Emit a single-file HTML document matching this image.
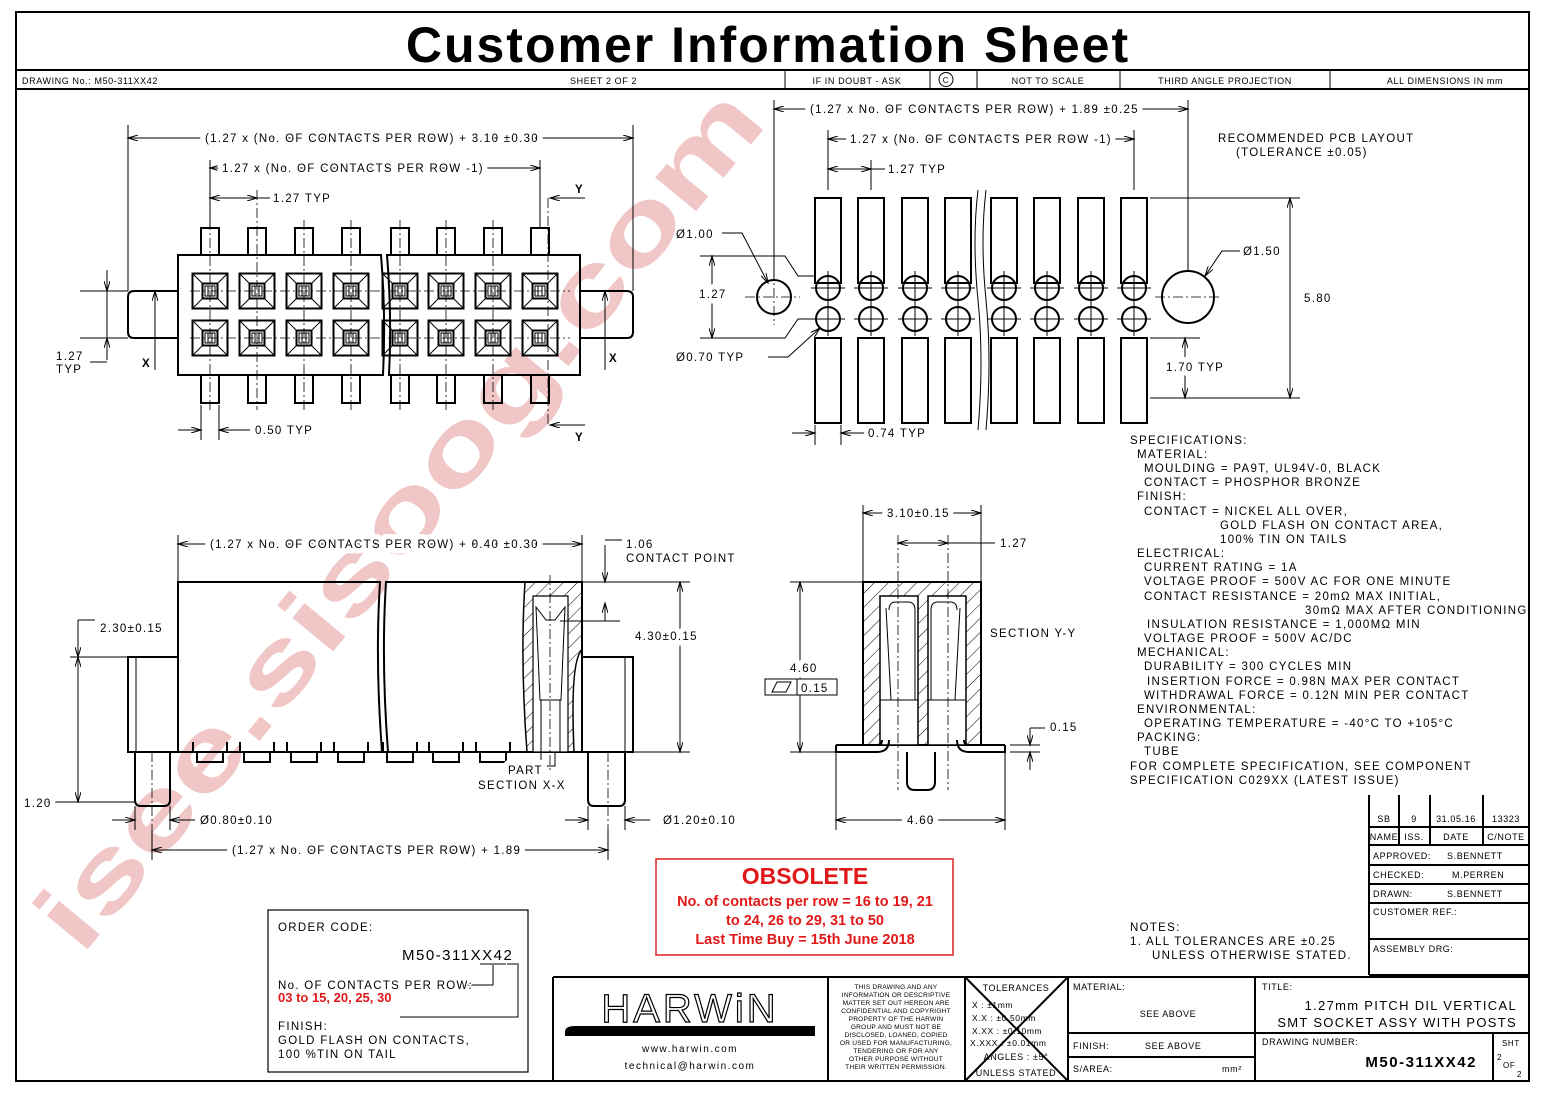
<!DOCTYPE html>
<html><head><meta charset="utf-8"><style>
html,body{margin:0;padding:0;background:#fff}
svg{display:block}
text{font-family:"Liberation Sans",sans-serif;fill:#000}
.t{font-size:11.5px;letter-spacing:1.3px;paint-order:stroke;stroke:#fff;stroke-width:3px;stroke-linejoin:round}
.d{stroke-width:11px}
.s{font-size:9px;letter-spacing:0.6px}
.ln{stroke:#000;stroke-width:1;fill:none}
.th{stroke:#000;stroke-width:2;fill:none}
.cl{stroke:#000;stroke-width:0.8;stroke-dasharray:10 3 2 3;fill:none}
</style></head><body>
<svg width="1543" height="1093" viewBox="0 0 1543 1093" xmlns="http://www.w3.org/2000/svg">
<defs>
<marker id="a" viewBox="0 0 10 6" refX="10" refY="3" markerWidth="14" markerHeight="6" orient="auto-start-reverse" markerUnits="userSpaceOnUse"><path d="M0,0 L10,3 L0,6" fill="none" stroke="#000" stroke-width="1"/></marker>
<g id="sq"><rect x="-17.5" y="-17.5" width="35" height="35" class="th"/><rect x="-7.5" y="-7.5" width="15" height="15" class="th"/><rect x="-5" y="-5" width="10" height="10" class="ln"/><path d="M-17.5,-17.5L-7.5,-7.5M17.5,-17.5L7.5,-7.5M-17.5,17.5L-7.5,7.5M17.5,17.5L7.5,7.5M-2,-5V5M2,-5V5" class="ln"/></g>
<g id="pt"><rect x="-9" y="-27" width="18" height="27" class="th"/></g>
<g id="pb"><rect x="-9" y="0" width="18" height="28" class="th"/></g>
<g id="pc"><circle r="12" class="th"/><path d="M-17,0H17M0,-17V17" class="ln"/></g>
<g id="ct"><path d="M-17,0 v10 h4 v10 h26 v-10 h4 v-10" class="th"/><path d="M-13,10 h26" class="ln"/></g>
<pattern id="h" width="10" height="10" patternUnits="userSpaceOnUse" patternTransform="rotate(45)"><line x1="0" y1="0" x2="0" y2="10" stroke="#000" stroke-width="1"/></pattern>
</defs>

<!-- watermark -->
<text x="0" y="0" transform="translate(425,540) rotate(-50.5)" text-anchor="middle" textLength="1080" lengthAdjust="spacingAndGlyphs" style="font-size:100px;font-weight:bold;fill:#f0c6c6;letter-spacing:0">isee.sisoog.com</text>

<!-- frame -->
<rect x="16" y="12" width="1513" height="1069" class="th"/>
<line x1="16" y1="70" x2="1529" y2="70" class="th"/>
<line x1="16" y1="89" x2="1529" y2="89" class="th"/>
<text x="768" y="62" text-anchor="middle" style="font-size:50px;font-weight:bold;letter-spacing:2px">Customer Information Sheet</text>
<g class="ln"><line x1="785" y1="70" x2="785" y2="89"/><line x1="930" y1="70" x2="930" y2="89"/><line x1="977" y1="70" x2="977" y2="89"/><line x1="1120" y1="70" x2="1120" y2="89"/><line x1="1330" y1="70" x2="1330" y2="89"/></g>
<text x="22" y="84" class="s">DRAWING No.:  M50-311XX42</text>
<text x="570" y="84" class="s">SHEET 2 OF 2</text>
<text x="857" y="84" class="s" text-anchor="middle">IF IN DOUBT - ASK</text>
<circle cx="946" cy="79.5" r="7" class="ln"/><text x="946" y="83" class="s" text-anchor="middle" style="font-size:8px">C</text>
<text x="1048" y="84" class="s" text-anchor="middle">NOT TO SCALE</text>
<text x="1225" y="84" class="s" text-anchor="middle">THIRD ANGLE PROJECTION</text>
<text x="1445" y="84" class="s" text-anchor="middle">ALL DIMENSIONS IN mm</text>

<!-- TOP LEFT VIEW -->
<g>
<path d="M178,255 H381 Q386,315 383,375 H178 Z" class="th"/>
<path d="M387,255 Q392,315 389,375 H580 V255 Z" class="th"/>
<path d="M178,291 H134 Q128,291 128,297 V332 Q128,338 134,338 H178" class="th"/>
<path d="M580,291 H627 Q633,291 633,297 V332 Q633,338 627,338 H580" class="th"/>
<use href="#pt" x="210" y="255"/><use href="#pt" x="257" y="255"/><use href="#pt" x="304" y="255"/><use href="#pt" x="351" y="255"/><use href="#pt" x="400" y="255"/><use href="#pt" x="446" y="255"/><use href="#pt" x="493" y="255"/><use href="#pt" x="540" y="255"/>
<use href="#pb" x="210" y="375"/><use href="#pb" x="257" y="375"/><use href="#pb" x="304" y="375"/><use href="#pb" x="351" y="375"/><use href="#pb" x="400" y="375"/><use href="#pb" x="446" y="375"/><use href="#pb" x="493" y="375"/><use href="#pb" x="540" y="375"/>
<use href="#sq" x="210" y="291"/><use href="#sq" x="257" y="291"/><use href="#sq" x="304" y="291"/><use href="#sq" x="351" y="291"/><use href="#sq" x="400" y="291"/><use href="#sq" x="446" y="291"/><use href="#sq" x="493" y="291"/><use href="#sq" x="540" y="291"/>
<use href="#sq" x="210" y="338"/><use href="#sq" x="257" y="338"/><use href="#sq" x="304" y="338"/><use href="#sq" x="351" y="338"/><use href="#sq" x="400" y="338"/><use href="#sq" x="446" y="338"/><use href="#sq" x="493" y="338"/><use href="#sq" x="540" y="338"/>
<g class="cl"><line x1="190" y1="291" x2="570" y2="291"/><line x1="190" y1="338" x2="570" y2="338"/>
<line x1="210" y1="220" x2="210" y2="410"/><line x1="257" y1="190" x2="257" y2="410"/><line x1="304" y1="220" x2="304" y2="410"/><line x1="351" y1="220" x2="351" y2="410"/><line x1="400" y1="220" x2="400" y2="410"/><line x1="446" y1="220" x2="446" y2="410"/><line x1="493" y1="220" x2="493" y2="410"/><line x1="548" y1="198" x2="548" y2="425"/></g>
<g class="ln">
<line x1="128" y1="125" x2="128" y2="291"/><line x1="633" y1="125" x2="633" y2="291"/>
<line x1="128" y1="138" x2="633" y2="138" marker-start="url(#a)" marker-end="url(#a)"/>
<line x1="210" y1="160" x2="210" y2="228"/><line x1="540" y1="160" x2="540" y2="228"/>
<line x1="210" y1="168" x2="540" y2="168" marker-start="url(#a)" marker-end="url(#a)"/>
<line x1="210" y1="198" x2="257" y2="198" marker-start="url(#a)" marker-end="url(#a)"/><line x1="257" y1="198" x2="270" y2="198"/>
<line x1="201" y1="405" x2="201" y2="440"/><line x1="219" y1="405" x2="219" y2="440"/>
<line x1="178" y1="430" x2="201" y2="430" marker-end="url(#a)"/><line x1="250" y1="430" x2="219" y2="430" marker-end="url(#a)"/>
<line x1="80" y1="291" x2="128" y2="291"/><line x1="80" y1="338" x2="128" y2="338"/>
<line x1="107" y1="270" x2="107" y2="291" marker-end="url(#a)"/><line x1="107" y1="360" x2="107" y2="338" marker-end="url(#a)"/><line x1="107" y1="291" x2="107" y2="338"/>
<line x1="90" y1="362" x2="107" y2="362"/>
<line x1="155" y1="370" x2="155" y2="291" marker-end="url(#a)"/>
<line x1="605" y1="370" x2="605" y2="291" marker-end="url(#a)"/>
<line x1="585" y1="198" x2="550" y2="198" marker-end="url(#a)"/>
<line x1="585" y1="425" x2="550" y2="425" marker-end="url(#a)"/>
</g>
<text x="205" y="142" class="t d">(1.27 x (No. OF CONTACTS PER ROW) + 3.10 ±0.30</text>
<text x="222" y="172" class="t d">1.27 x (No. OF CONTACTS PER ROW -1)</text>
<text x="273" y="202" class="t">1.27 TYP</text>
<text x="255" y="434" class="t">0.50 TYP</text>
<text x="56" y="360" class="t">1.27</text><text x="56" y="373" class="t">TYP</text>
<text x="142" y="367" class="t" style="font-weight:bold">X</text>
<text x="609" y="362" class="t" style="font-weight:bold">X</text>
<text x="575" y="193" class="t" style="font-weight:bold">Y</text>
<text x="575" y="441" class="t" style="font-weight:bold">Y</text>
</g>

<!-- PCB LAYOUT -->
<g>
<rect x="815" y="198" width="26" height="85" class="th"/><rect x="858" y="198" width="26" height="85" class="th"/><rect x="902" y="198" width="26" height="85" class="th"/><rect x="945" y="198" width="26" height="85" class="th"/><rect x="991" y="198" width="26" height="85" class="th"/><rect x="1034" y="198" width="26" height="85" class="th"/><rect x="1078" y="198" width="26" height="85" class="th"/><rect x="1121" y="198" width="26" height="85" class="th"/>
<rect x="815" y="338" width="26" height="85" class="th"/><rect x="858" y="338" width="26" height="85" class="th"/><rect x="902" y="338" width="26" height="85" class="th"/><rect x="945" y="338" width="26" height="85" class="th"/><rect x="991" y="338" width="26" height="85" class="th"/><rect x="1034" y="338" width="26" height="85" class="th"/><rect x="1078" y="338" width="26" height="85" class="th"/><rect x="1121" y="338" width="26" height="85" class="th"/>
<use href="#pc" x="828" y="288"/><use href="#pc" x="871" y="288"/><use href="#pc" x="915" y="288"/><use href="#pc" x="958" y="288"/><use href="#pc" x="1004" y="288"/><use href="#pc" x="1047" y="288"/><use href="#pc" x="1091" y="288"/><use href="#pc" x="1134" y="288"/>
<use href="#pc" x="828" y="319"/><use href="#pc" x="871" y="319"/><use href="#pc" x="915" y="319"/><use href="#pc" x="958" y="319"/><use href="#pc" x="1004" y="319"/><use href="#pc" x="1047" y="319"/><use href="#pc" x="1091" y="319"/><use href="#pc" x="1134" y="319"/>
<path d="M978,190 Q972,240 978,300 Q984,360 978,430 M986,190 Q980,240 986,300 Q992,360 986,430" class="ln"/>
<circle cx="774" cy="297" r="17" class="th"/><circle cx="1188" cy="297" r="26" class="th"/>
<g class="cl"><line x1="745" y1="297" x2="800" y2="297"/><line x1="774" y1="270" x2="774" y2="325"/><line x1="1155" y1="297" x2="1222" y2="297"/></g>
<g class="ln">
<line x1="774" y1="100" x2="774" y2="280"/><line x1="1188" y1="100" x2="1188" y2="270"/>
<line x1="774" y1="109" x2="1188" y2="109" marker-start="url(#a)" marker-end="url(#a)"/>
<line x1="828" y1="130" x2="828" y2="190"/><line x1="1134" y1="130" x2="1134" y2="190"/>
<line x1="828" y1="139" x2="1134" y2="139" marker-start="url(#a)" marker-end="url(#a)"/>
<line x1="871" y1="160" x2="871" y2="190"/>
<line x1="828" y1="169" x2="871" y2="169" marker-start="url(#a)" marker-end="url(#a)"/><line x1="871" y1="169" x2="885" y2="169"/>
<line x1="815" y1="425" x2="815" y2="445"/><line x1="841" y1="425" x2="841" y2="445"/>
<line x1="792" y1="433" x2="815" y2="433" marker-end="url(#a)"/><line x1="864" y1="433" x2="841" y2="433" marker-end="url(#a)"/>
<path d="M722,233 H742 L768,283" marker-end="url(#a)"/>
<path d="M1240,251 H1222 L1205,276" marker-end="url(#a)"/>
<path d="M700,256 H785 L798,276 H815"/><path d="M700,338 H785 L798,319 H815"/>
<line x1="712" y1="256" x2="712" y2="338" marker-start="url(#a)" marker-end="url(#a)"/>
<path d="M768,357 H788 L820,328" marker-end="url(#a)"/>
<line x1="1150" y1="198" x2="1300" y2="198"/><line x1="1150" y1="398" x2="1300" y2="398"/><line x1="1150" y1="338" x2="1200" y2="338"/>
<line x1="1290" y1="198" x2="1290" y2="398" marker-start="url(#a)" marker-end="url(#a)"/>
<line x1="1185" y1="338" x2="1185" y2="398" marker-start="url(#a)" marker-end="url(#a)"/>
</g>
<text x="810" y="113" class="t d">(1.27 x No. OF CONTACTS PER ROW) + 1.89 ±0.25</text>
<text x="850" y="143" class="t d">1.27 x (No. OF CONTACTS PER ROW -1)</text>
<text x="888" y="173" class="t">1.27 TYP</text>
<text x="1218" y="142" class="t">RECOMMENDED PCB LAYOUT</text>
<text x="1236" y="156" class="t">(TOLERANCE ±0.05)</text>
<text x="676" y="238" class="t">Ø1.00</text>
<text x="699" y="298" class="t d">1.27</text>
<text x="676" y="361" class="t">Ø0.70 TYP</text>
<text x="1243" y="255" class="t">Ø1.50</text>
<text x="1304" y="302" class="t">5.80</text>
<text x="1166" y="371" class="t d">1.70 TYP</text>
<text x="868" y="437" class="t">0.74 TYP</text>
</g>

<!-- SIDE VIEW -->
<g>
<path d="M178,582 H380 Q375,660 382,752 H178 Z" class="th"/>
<path d="M386,582 Q381,660 388,752 H582 V582 Z" class="th"/>
<rect x="128" y="657" width="50" height="95" class="th"/><line x1="136" y1="657" x2="136" y2="752" class="ln"/>
<rect x="582" y="657" width="51" height="95" class="th"/><line x1="625" y1="657" x2="625" y2="752" class="ln"/>
<path d="M135,752 V800 Q135,806 141,806 H164 Q170,806 170,800 V752" class="th"/>
<path d="M588,752 V800 Q588,806 594,806 H619 Q625,806 625,800 V752" class="th"/>
<use href="#ct" x="210" y="742"/><use href="#ct" x="257" y="742"/><use href="#ct" x="304" y="742"/><use href="#ct" x="351" y="742"/><use href="#ct" x="400" y="742"/><use href="#ct" x="446" y="742"/><use href="#ct" x="493" y="742"/>
<path d="M525,582 Q520,660 527,752 H574 Q570,660 582,650 V582 Z" fill="url(#h)" stroke="#000" stroke-width="1.5"/>
<path d="M533,596 H568 V752 H533 Z" fill="#fff" stroke="#000" stroke-width="1.2"/>
<path d="M536,607 L540,700 H561 L565,607 L555,620 H546 Z" class="ln"/>
<rect x="541" y="700" width="19" height="52" class="ln"/>
<rect x="541" y="752" width="14" height="14" class="ln"/>
<g class="cl"><line x1="550" y1="575" x2="550" y2="770"/><line x1="152" y1="752" x2="152" y2="830"/><line x1="608" y1="752" x2="608" y2="830"/></g>
<g class="ln">
<line x1="178" y1="535" x2="178" y2="582"/><line x1="582" y1="535" x2="582" y2="582"/>
<line x1="178" y1="544" x2="582" y2="544" marker-start="url(#a)" marker-end="url(#a)"/>
<line x1="70" y1="657" x2="128" y2="657"/><line x1="30" y1="802" x2="135" y2="802"/>
<line x1="78" y1="620" x2="78" y2="657" marker-end="url(#a)"/><line x1="78" y1="620" x2="95" y2="620"/>
<line x1="78" y1="657" x2="78" y2="802" marker-start="url(#a)" marker-end="url(#a)"/>
<line x1="135" y1="806" x2="135" y2="830"/><line x1="170" y1="806" x2="170" y2="830"/>
<line x1="112" y1="820" x2="135" y2="820" marker-end="url(#a)"/><line x1="195" y1="820" x2="170" y2="820" marker-end="url(#a)"/>
<line x1="588" y1="806" x2="588" y2="830"/><line x1="625" y1="806" x2="625" y2="830"/>
<line x1="565" y1="820" x2="588" y2="820" marker-end="url(#a)"/><line x1="650" y1="820" x2="625" y2="820" marker-end="url(#a)"/>
<line x1="152" y1="830" x2="152" y2="860"/><line x1="608" y1="830" x2="608" y2="860"/>
<line x1="152" y1="850" x2="608" y2="850" marker-start="url(#a)" marker-end="url(#a)"/>
<line x1="582" y1="582" x2="690" y2="582"/><line x1="560" y1="621" x2="620" y2="621"/>
<line x1="605" y1="545" x2="605" y2="582" marker-end="url(#a)"/><line x1="605" y1="540" x2="622" y2="540"/>
<line x1="605" y1="621" x2="605" y2="603" marker-end="url(#a)"/>
<line x1="680" y1="582" x2="680" y2="752" marker-start="url(#a)" marker-end="url(#a)"/>
<line x1="633" y1="752" x2="690" y2="752"/>
</g>
<text x="210" y="548" class="t d">(1.27 x No. OF CONTACTS PER ROW) + 0.40 ±0.30</text>
<text x="626" y="548" class="t">1.06</text>
<text x="626" y="562" class="t">CONTACT POINT</text>
<text x="100" y="632" class="t">2.30±0.15</text>
<text x="635" y="640" class="t d">4.30±0.15</text>
<text x="24" y="807" class="t d">1.20</text>
<text x="200" y="824" class="t">Ø0.80±0.10</text>
<text x="663" y="824" class="t">Ø1.20±0.10</text>
<text x="232" y="854" class="t d">(1.27 x No. OF CONTACTS PER ROW) + 1.89</text>
<text x="508" y="774" class="t d">PART</text>
<text x="478" y="789" class="t">SECTION  X-X</text>
</g>

<!-- SECTION Y-Y -->
<g>
<rect x="863" y="582" width="118" height="163" fill="url(#h)" stroke="#000" stroke-width="2"/>
<path d="M880,596 H918 V745 H880 Z M928,596 H966 V745 H928 Z" fill="#fff" stroke="#000" stroke-width="1.5"/>
<path d="M886,608 L891,700 H915 V610 Q915,602 908,602 H896 Q889,602 889,610" class="ln"/>
<path d="M960,608 L955,700 H931 V610 Q931,602 938,602 H950 Q957,602 957,610" class="ln"/>
<line x1="880" y1="700" x2="918" y2="700" class="ln"/><line x1="928" y1="700" x2="966" y2="700" class="ln"/>
<path d="M836,745 H877 Q882,745 882,740 M836,745 V752 H877 Q889,752 889,740" class="th"/>
<path d="M1005,745 H969 Q964,745 964,740 M1005,745 V752 H969 Q957,752 957,740" class="th"/>
<path d="M907,752 V782 Q907,790 915,790 H927 Q935,790 935,782 V752" class="th"/>
<g class="cl"><line x1="898" y1="535" x2="898" y2="790"/><line x1="948" y1="535" x2="948" y2="790"/></g>
<g class="ln">
<line x1="863" y1="505" x2="863" y2="582"/><line x1="981" y1="505" x2="981" y2="582"/>
<line x1="863" y1="513" x2="981" y2="513" marker-start="url(#a)" marker-end="url(#a)"/>
<line x1="898" y1="543" x2="948" y2="543" marker-start="url(#a)" marker-end="url(#a)"/><line x1="948" y1="543" x2="995" y2="543"/>
<line x1="790" y1="582" x2="863" y2="582"/><line x1="790" y1="752" x2="836" y2="752"/>
<line x1="800" y1="582" x2="800" y2="752" marker-start="url(#a)" marker-end="url(#a)"/>
<line x1="836" y1="752" x2="836" y2="830"/><line x1="1005" y1="752" x2="1005" y2="830"/>
<line x1="836" y1="820" x2="1005" y2="820" marker-start="url(#a)" marker-end="url(#a)"/>
<line x1="1010" y1="745" x2="1040" y2="745"/><line x1="1010" y1="752" x2="1040" y2="752"/>
<line x1="1030" y1="728" x2="1030" y2="745" marker-end="url(#a)"/><line x1="1030" y1="728" x2="1045" y2="728"/>
<line x1="1030" y1="770" x2="1030" y2="752" marker-end="url(#a)"/>
<rect x="765" y="679" width="72" height="16" fill="#fff"/><line x1="797" y1="679" x2="797" y2="695"/>
<path d="M772,692 L777,682 H791 L786,692 Z"/>
</g>
<text x="887" y="517" class="t d">3.10±0.15</text>
<text x="1000" y="547" class="t">1.27</text>
<text x="790" y="672" class="t d">4.60</text>
<text x="801" y="692" class="t">0.15</text>
<text x="990" y="637" class="t">SECTION  Y-Y</text>
<text x="1050" y="731" class="t">0.15</text>
<text x="907" y="824" class="t d">4.60</text>
</g>

<!-- SPECIFICATIONS -->
<text class="t" xml:space="preserve" style="font-size:11.5px">
<tspan x="1130" y="444">SPECIFICATIONS:</tspan>
<tspan x="1137" y="458">MATERIAL:</tspan>
<tspan x="1144" y="472">MOULDING = PA9T, UL94V-0, BLACK</tspan>
<tspan x="1144" y="486">CONTACT = PHOSPHOR BRONZE</tspan>
<tspan x="1137" y="500">FINISH:</tspan>
<tspan x="1144" y="515">CONTACT = NICKEL ALL OVER,</tspan>
<tspan x="1220" y="529">GOLD FLASH ON CONTACT AREA,</tspan>
<tspan x="1220" y="543">100% TIN ON TAILS</tspan>
<tspan x="1137" y="557">ELECTRICAL:</tspan>
<tspan x="1144" y="571">CURRENT RATING = 1A</tspan>
<tspan x="1144" y="585">VOLTAGE PROOF = 500V AC FOR ONE MINUTE</tspan>
<tspan x="1144" y="600">CONTACT RESISTANCE = 20mΩ MAX INITIAL,</tspan>
<tspan x="1305" y="614">30mΩ MAX AFTER CONDITIONING</tspan>
<tspan x="1147" y="628">INSULATION RESISTANCE = 1,000MΩ MIN</tspan>
<tspan x="1144" y="642">VOLTAGE PROOF = 500V AC/DC</tspan>
<tspan x="1137" y="656">MECHANICAL:</tspan>
<tspan x="1144" y="670">DURABILITY = 300 CYCLES MIN</tspan>
<tspan x="1147" y="685">INSERTION FORCE = 0.98N MAX PER CONTACT</tspan>
<tspan x="1144" y="699">WITHDRAWAL FORCE = 0.12N MIN PER CONTACT</tspan>
<tspan x="1137" y="713">ENVIRONMENTAL:</tspan>
<tspan x="1144" y="727">OPERATING TEMPERATURE = -40°C TO +105°C</tspan>
<tspan x="1137" y="741">PACKING:</tspan>
<tspan x="1144" y="755">TUBE</tspan>
<tspan x="1130" y="770">FOR COMPLETE SPECIFICATION, SEE COMPONENT</tspan>
<tspan x="1130" y="784">SPECIFICATION C029XX (LATEST ISSUE)</tspan>
</text>

<!-- revision table -->
<g class="th"><path d="M1369,795 V975 M1399,795 V845 M1430,795 V845 M1483,795 V845"/>
<path d="M1369,827 H1529 M1369,845 H1529 M1369,865 H1529 M1369,884 H1529 M1369,903 H1529 M1369,939 H1529 M1369,975 H1529"/></g>
<text x="1384" y="822" class="s" text-anchor="middle">SB</text><text x="1414" y="822" class="s" text-anchor="middle">9</text><text x="1456" y="822" class="s" text-anchor="middle">31.05.16</text><text x="1506" y="822" class="s" text-anchor="middle">13323</text>
<text x="1384" y="840" class="s" text-anchor="middle">NAME</text><text x="1414" y="840" class="s" text-anchor="middle">ISS.</text><text x="1456" y="840" class="s" text-anchor="middle">DATE</text><text x="1506" y="840" class="s" text-anchor="middle">C/NOTE</text>
<text x="1373" y="859" class="s">APPROVED:</text><text x="1447" y="859" class="s">S.BENNETT</text>
<text x="1373" y="878" class="s">CHECKED:</text><text x="1452" y="878" class="s">M.PERREN</text>
<text x="1373" y="897" class="s">DRAWN:</text><text x="1447" y="897" class="s">S.BENNETT</text>
<text x="1373" y="915" class="s">CUSTOMER REF.:</text>
<text x="1373" y="952" class="s">ASSEMBLY DRG:</text>

<!-- notes -->
<text x="1130" y="931" class="t">NOTES:</text>
<text x="1130" y="945" class="t">1. ALL TOLERANCES ARE ±0.25</text>
<text x="1152" y="959" class="t">UNLESS OTHERWISE STATED.</text>

<!-- obsolete -->
<rect x="656" y="859" width="297" height="96" fill="#fff" stroke="#e02020" stroke-width="1.5"/>
<text x="805" y="884" text-anchor="middle" style="font-size:23px;font-weight:bold;fill:#e01818">OBSOLETE</text>
<text text-anchor="middle" style="font-size:14.5px;font-weight:bold;fill:#e01818"><tspan x="805" y="906">No. of contacts per row = 16 to 19, 21</tspan><tspan x="805" y="925">to 24, 26 to 29, 31 to 50</tspan><tspan x="805" y="944">Last Time Buy = 15th June 2018</tspan></text>

<!-- order code -->
<rect x="268" y="910" width="260" height="162" fill="#fff" stroke="#000" stroke-width="1.2"/>
<text x="278" y="931" class="t">ORDER CODE:</text>
<text x="402" y="960" class="t" style="font-size:15px;letter-spacing:1.5px">M50-311XX42</text>
<g class="ln"><line x1="480" y1="964" x2="506" y2="964"/><line x1="507" y1="964" x2="519" y2="964"/>
<path d="M457,985 H493 V965 M400,1017 H518 V965"/></g>
<text x="278" y="989" class="t">No. OF CONTACTS PER ROW:</text>
<text x="278" y="1002" style="font-size:13px;font-weight:bold;fill:#e01818">03 to 15, 20, 25, 30</text>
<text x="278" y="1030" class="t">FINISH:</text>
<text x="278" y="1044" class="t">GOLD FLASH ON CONTACTS,</text>
<text x="278" y="1058" class="t">100 %TIN ON TAIL</text>

<!-- title block -->
<g class="th"><path d="M553,977 H1529 M553,977 V1081 M828,977 V1081 M965,977 V1081 M1068,977 V1081 M1255,977 V1081 M1068,1033 H1529 M1068,1057 H1255 M1493,1033 V1081"/></g>
<text x="690" y="1022" text-anchor="middle" style="font-size:40px;fill:#fff;stroke:#000;stroke-width:1.2;letter-spacing:3px;font-family:'Liberation Sans',sans-serif">HARWiN</text>
<path d="M565,1032 Q565,1026 575,1026 H815 V1036 H565 Z" fill="#000"/>
<text x="690" y="1052" class="s" text-anchor="middle" style="font-size:10px;letter-spacing:1.5px">www.harwin.com</text>
<text x="690" y="1069" class="s" text-anchor="middle" style="font-size:10px;letter-spacing:1.5px">technical@harwin.com</text>
<text text-anchor="middle" style="font-size:6.6px;letter-spacing:0.2px"><tspan x="896" y="989">THIS DRAWING AND ANY</tspan><tspan x="896" y="997">INFORMATION OR DESCRIPTIVE</tspan><tspan x="896" y="1005">MATTER SET OUT HEREON ARE</tspan><tspan x="896" y="1013">CONFIDENTIAL AND COPYRIGHT</tspan><tspan x="896" y="1021">PROPERTY OF THE HARWIN</tspan><tspan x="896" y="1029">GROUP AND MUST NOT BE</tspan><tspan x="896" y="1037">DISCLOSED, LOANED, COPIED</tspan><tspan x="896" y="1045">OR USED FOR MANUFACTURING,</tspan><tspan x="896" y="1053">TENDERING OR FOR ANY</tspan><tspan x="896" y="1061">OTHER PURPOSE WITHOUT</tspan><tspan x="896" y="1069">THEIR WRITTEN PERMISSION.</tspan></text>
<text x="1016" y="991" class="s" text-anchor="middle">TOLERANCES</text>
<text x="972" y="1008" class="s" style="font-size:8.5px">X    : ±1mm</text>
<text x="972" y="1021" class="s" style="font-size:8.5px">X.X  : ±0.50mm</text>
<text x="972" y="1034" class="s" style="font-size:8.5px">X.XX  : ±0.10mm</text>
<text x="970" y="1046" class="s" style="font-size:8.5px">X.XXX : ±0.01mm</text>
<text x="1016" y="1060" class="s" text-anchor="middle">ANGLES : ±5°</text>
<text x="1016" y="1076" class="s" text-anchor="middle">UNLESS STATED</text>
<path d="M965,977 L1068,1081 M1068,977 L965,1081" class="th"/>
<text x="1073" y="990" class="s">MATERIAL:</text>
<text x="1168" y="1017" class="s" text-anchor="middle">SEE ABOVE</text>
<text x="1073" y="1049" class="s">FINISH:</text><text x="1145" y="1049" class="s">SEE ABOVE</text>
<text x="1073" y="1072" class="s">S/AREA:</text><text x="1222" y="1072" class="s">mm²</text>
<text x="1262" y="990" class="s">TITLE:</text>
<text x="1517" y="1010" class="t" text-anchor="end" style="font-size:13px">1.27mm PITCH DIL VERTICAL</text>
<text x="1517" y="1027" class="t" text-anchor="end" style="font-size:13px">SMT SOCKET ASSY WITH POSTS</text>
<text x="1262" y="1045" class="s">DRAWING NUMBER:</text>
<text x="1477" y="1067" text-anchor="end" style="font-size:15px;font-weight:bold;letter-spacing:1.5px">M50-311XX42</text>
<text x="1502" y="1046" class="s" style="font-size:8px">SHT</text>
<text x="1497" y="1060" class="s" style="font-size:8px">2</text>
<text x="1503" y="1068" class="s" style="font-size:8px">OF</text>
<text x="1517" y="1077" class="s" style="font-size:8px">2</text>
</svg>
</body></html>
